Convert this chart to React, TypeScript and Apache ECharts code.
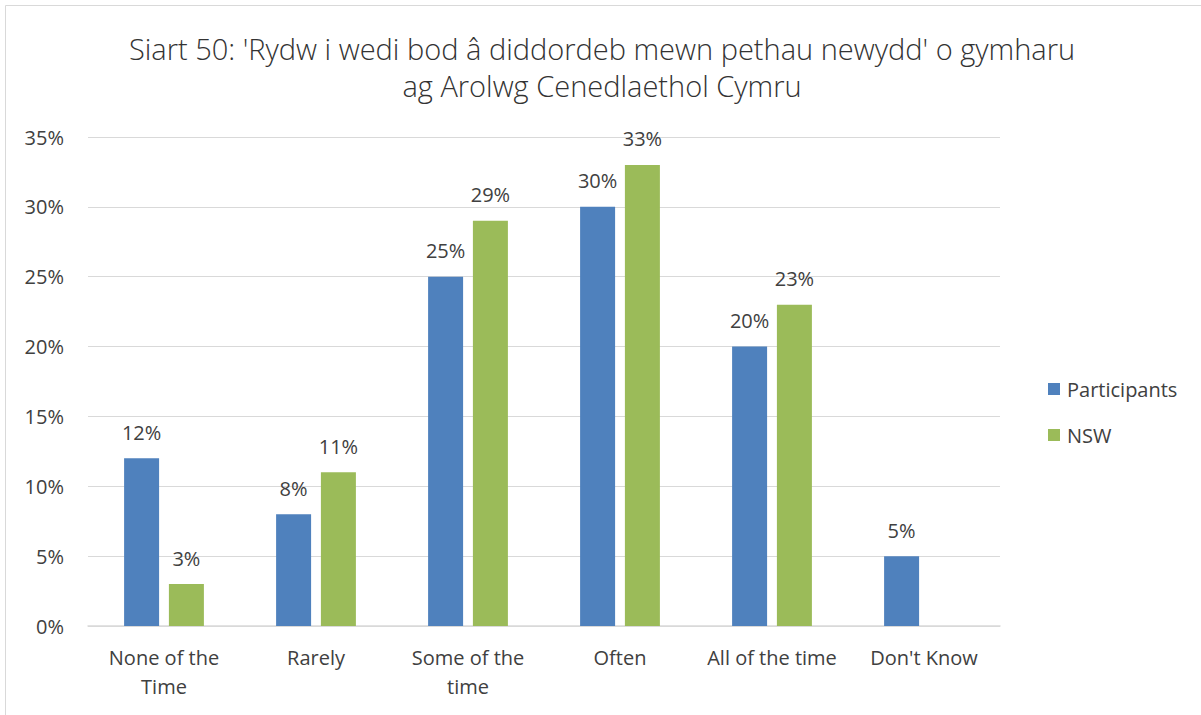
import React, { useEffect, useRef } from "react";
import * as echarts from "echarts";

const categories = ["None of the\nTime", "Rarely", "Some of the\ntime", "Often", "All of the time", "Don't Know"];
const participants = [12, 8, 25, 30, 20, 5];
const nsw: (number | null)[] = [3, 11, 29, 33, 23, null];
const yTicks = [0, 5, 10, 15, 20, 25, 30, 35];
const titleText = "Siart 50: 'Rydw i wedi bod â diddordeb mewn pethau newydd' o gymharu\nag Arolwg Cenedlaethol Cymru";

const FONT = "'Open Sans', Lato, sans-serif";
const TXT = "#404040";

export default function App() {
  const ref = useRef<HTMLDivElement>(null);
  useEffect(() => {
    document.body.style.margin = "0";
    const chart = echarts.init(ref.current!, null, { renderer: "svg" });
    const labelCfg = {
      show: true,
      position: "top" as const,
      distance: 16,
      formatter: (p: any) => `${p.value}%`,
      color: TXT,
      fontSize: 20,
      fontFamily: FONT,
    };
    chart.setOption({
      animation: false,
      backgroundColor: "#ffffff",
      textStyle: { fontFamily: FONT },
      graphic: [
        {
          type: "rect",
          shape: { x: 5.5, y: 5.5, width: 1300, height: 800 },
          style: { fill: "none", stroke: "#d9d9d9", lineWidth: 1 },
          silent: true,
          z: -1,
        },
      ],
      title: {
        text: titleText,
        left: 597,
        textAlign: "center",
        top: 25,
        textStyle: { fontSize: 29, fontWeight: 300, color: "#333333", fontFamily: FONT, lineHeight: 37 },
      },
      legend: {
        orient: "vertical",
        left: 1043,
        top: 374,
        itemWidth: 12,
        itemHeight: 12,
        itemGap: 26,
        icon: "rect",
        textStyle: { fontSize: 20, color: TXT, fontFamily: FONT, padding: [0, 0, 0, 2] },
        data: ["Participants", "NSW"],
      },
      grid: { left: 88, right: 201, top: 137, bottom: 89, containLabel: false },
      xAxis: {
        type: "category",
        data: categories,
        axisLine: { show: true, lineStyle: { color: "#d9d9d9", width: 1.5 } },
        axisTick: { show: false },
        axisLabel: { color: TXT, fontSize: 20, fontFamily: FONT, margin: 17, lineHeight: 29, interval: 0 },
      },
      yAxis: {
        type: "value",
        min: 0,
        max: 35,
        interval: 5,
        axisLine: { show: false },
        axisTick: { show: false },
        splitLine: { lineStyle: { color: "#d9d9d9", width: 1 } },
        axisLabel: {
          color: TXT,
          fontSize: 20,
          fontFamily: FONT,
          margin: 24,
          formatter: (v: number) => (yTicks.includes(v) ? `${v}%` : ""),
        },
      },
      series: [
        {
          name: "Participants",
          type: "bar",
          data: participants,
          barWidth: 35,
          barGap: "28%",
          itemStyle: { color: "#4f81bd" },
          label: labelCfg,
        },
        {
          name: "NSW",
          type: "bar",
          data: nsw,
          barWidth: 35,
          itemStyle: { color: "#9bbb59" },
          label: labelCfg,
        },
      ],
    });
    return () => chart.dispose();
  }, []);
  return <div ref={ref} style={{ position: "absolute", left: 0, top: 0, width: 1201, height: 715 }} />;
}
